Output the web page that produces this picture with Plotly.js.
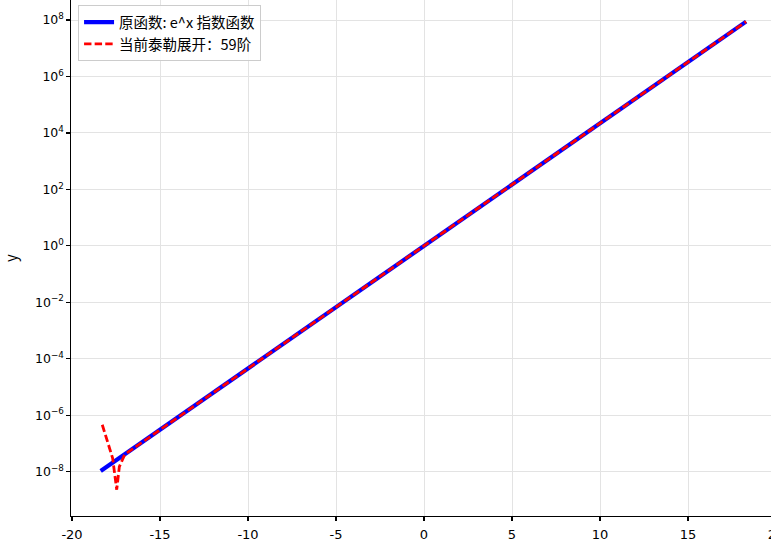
<!DOCTYPE html>
<html>
<head>
<meta charset="utf-8">
<script src="https://cdn.plot.ly/plotly-3.0.1.min.js"></script>
<style>
html,body{margin:0;padding:0;overflow:hidden;background:#fff;}
#chart{width:800px;height:546px;}
</style>
</head>
<body>
<div id="chart"></div>
<script>
// Original function e^x
const xOriginal = [-18.37, -15, -10, -5, 0, 5, 10, 15, 18.3];
const yOriginal = [1.05e-8, 3.06e-7, 4.54e-5, 6.74e-3, 1, 148, 2.2e4, 3.27e6, 8.8e7];

// Taylor expansion, 59th order
const xTaylor = [-18.28, -17.69, -17.46, -17.31, -17.0, -15, -10, -5, 0, 5, 10, 15, 18.3];
const yTaylor = [4.6e-7, 3.0e-8, 2.3e-9, 1.5e-8, 4.1e-8, 3.06e-7, 4.54e-5, 6.74e-3, 1, 148, 2.2e4, 3.27e6, 8.8e7];

const nameOriginal = "原函数: e^x 指数函数";
const nameTaylor = "当前泰勒展开：59阶";

const xTickVals = [-20, -15, -10, -5, 0, 5, 10, 15, 20];
const xTickText = ["-20", "-15", "-10", "-5", "0", "5", "10", "15", "20"];
const yTickVals = [1e-8, 1e-6, 1e-4, 1e-2, 1, 1e2, 1e4, 1e6, 1e8];
const yTickText = ["10<sup>\u22128</sup>", "10<sup>\u22126</sup>", "10<sup>\u22124</sup>", "10<sup>\u22122</sup>", "10<sup>0</sup>",
                   "10<sup>2</sup>", "10<sup>4</sup>", "10<sup>6</sup>", "10<sup>8</sup>"];

const FONT = "Noto Sans CJK SC, Noto Sans, DejaVu Sans, sans-serif";
const MATHFONT = "DejaVu Sans, sans-serif";

const traces = [
  {x: xOriginal, y: yOriginal, name: nameOriginal, mode: "lines", type: "scatter",
   line: {color: "#0000ff", width: 4.2}},
  {x: xTaylor, y: yTaylor, name: nameTaylor, mode: "lines", type: "scatter",
   line: {color: "#ff0000", width: 2.8, dash: "7.4px,3.2px"}}
];

const layout = {
  width: 800, height: 546,
  margin: {l: 71, r: 22.6, t: 0, b: 29.5},
  paper_bgcolor: "#fff", plot_bgcolor: "#fff",
  font: {family: FONT, size: 12, color: "#000"},
  showlegend: true,
  legend: {x: 0.01, y: 0.99, xanchor: "left", yanchor: "top",
           bgcolor: "rgba(255,255,255,0.85)", bordercolor: "#cccccc", borderwidth: 1,
           font: {family: FONT, size: 14.5, color: "#000"}},
  xaxis: {range: [-20.057, 20.057], tickmode: "array", tickvals: xTickVals, ticktext: xTickText,
          showgrid: true, gridcolor: "#e3e3e3", gridwidth: 1, zeroline: false,
          showline: true, linecolor: "#000", linewidth: 1.1,
          ticks: "outside", ticklen: 3.5, tickwidth: 1.1, tickcolor: "#000",
          ticklabelstandoff: 3,
          tickfont: {family: MATHFONT, size: 13, color: "#000"}},
  yaxis: {type: "log", range: [-9.57, 8.71], tickmode: "array", tickvals: yTickVals, ticktext: yTickText,
          showgrid: true, gridcolor: "#e3e3e3", gridwidth: 1, zeroline: false,
          showline: true, linecolor: "#000", linewidth: 1.1,
          ticks: "outside", ticklen: 3.5, tickwidth: 1.1, tickcolor: "#000",
          tickfont: {family: MATHFONT, size: 12.5, color: "#000"},
          title: {text: "y", standoff: 18, font: {family: FONT, size: 15, color: "#000"}}}
};

Plotly.newPlot("chart", traces, layout, {displayModeBar: false, staticPlot: true});
</script>
</body>
</html>
